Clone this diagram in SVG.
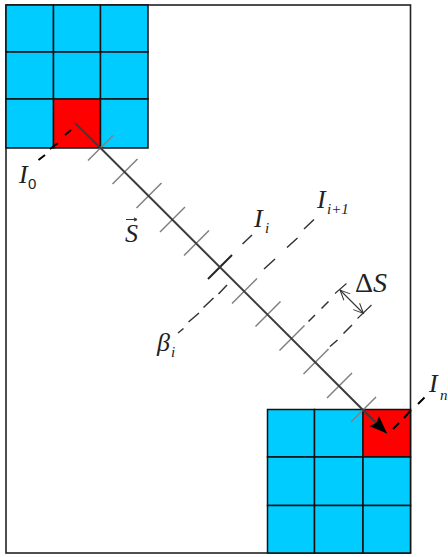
<svg xmlns="http://www.w3.org/2000/svg" width="448" height="557" viewBox="0 0 448 557">
<style>
.cell{fill:#00ccff;stroke:#111;stroke-width:1.5}
.red{fill:#ff0000;stroke:#111;stroke-width:1.5}
.frame{fill:none;stroke:#222;stroke-width:1.6}
.main{stroke:#3c3c3c;stroke-width:2;fill:none}
.tick{stroke:#808080;stroke-width:1.5;fill:none}
.tickd{stroke:#222;stroke-width:2;fill:none}
.dash{stroke:#333;stroke-width:1.5;fill:none}
.dashb{stroke:#000;stroke-width:2;fill:none}
.dim{stroke:#333;stroke-width:1.1;fill:none}
text{font-family:"Liberation Serif","Times New Roman",serif;font-style:italic;fill:#222;font-size:26px}
.sub{font-size:15px}
.plain{font-style:normal}
.digit{font-style:normal;font-family:"Liberation Sans",Arial,sans-serif}
.delta{font-size:28px}
</style>
<defs>
<marker id="arrow" markerUnits="userSpaceOnUse" markerWidth="19" markerHeight="16" refX="18" refY="8" orient="auto"><path d="M0,1 L18,8 L0,15 L3,8 Z" fill="#000"/></marker>
<marker id="open" markerUnits="userSpaceOnUse" markerWidth="12" markerHeight="12" refX="10" refY="6" orient="auto-start-reverse"><path d="M0,1.500 L10,6 L0,10.500" fill="none" stroke="#333" stroke-width="1"/></marker>
</defs>
<rect id="frame" class="frame" x="6" y="5" width="404.5" height="548"/>
<g id="grid-start">
<rect class="cell" x="6" y="5" width="47.5" height="47"/><rect class="cell" x="53.5" y="5" width="47" height="47"/><rect class="cell" x="100.5" y="5" width="47.5" height="47"/>
<rect class="cell" x="6" y="52" width="47.5" height="47"/><rect class="cell" x="53.5" y="52" width="47" height="47"/><rect class="cell" x="100.5" y="52" width="47.5" height="47"/>
<rect class="cell" x="6" y="99" width="47.5" height="49"/><rect class="red" x="53.5" y="99" width="47" height="49"/><rect class="cell" x="100.5" y="99" width="47.5" height="49"/>
</g>
<g id="grid-end">
<rect class="cell" x="267.5" y="409.5" width="47" height="47.5"/><rect class="cell" x="314.5" y="409.5" width="48.5" height="47.5"/><rect class="red" x="363" y="409.5" width="47.5" height="47.5"/>
<rect class="cell" x="267.5" y="457" width="47" height="48.5"/><rect class="cell" x="314.5" y="457" width="48.5" height="48.5"/><rect class="cell" x="363" y="457" width="47.5" height="48.5"/>
<rect class="cell" x="267.5" y="505.5" width="47" height="47.5"/><rect class="cell" x="314.5" y="505.5" width="48.5" height="47.5"/><rect class="cell" x="363" y="505.5" width="47.5" height="47.5"/>
</g>
<g id="connectors">
<g id="ticks">
<path class="tick" d="M88,160.500L113,135.500M112.500,184L137.500,159M136.500,208L161.500,183M160,232L185,207M184,255.500L209,230.500M232,303.500L257,278.500M255.500,326.500L280.500,301.500M279.500,350.500L304.500,325.500M303.500,374L328.500,349M327,398L352,373M351,422L376,397"/>
<path class="tickd" d="M208,279L232,255"/>
</g>
<path class="main" d="M75,123L100.500,148L363,410L387,433.500" marker-end="url(#arrow)"/>
<path class="dashb" d="M38.500,160L45,155M50,149L58,143M65,135L71,130"/>
<path class="dashb" d="M393,429L399,423M404,418L411,410M418,404L424.500,397.500"/>
<path class="dash" d="M242.500,244L252,235"/>
<path class="dash" d="M264,269L275,259M287,247.500L297.500,238M304,229L314,219.500"/>
<path class="dash" d="M178,333L183.500,328.500M188.500,322L199,313M203.500,307.500L213.500,298M218.500,294L227,285"/>
<path class="dash" d="M308.500,321.500L315,315M321.500,308.500L328.500,301.500"/>
<path class="dash" d="M330,346.500L337.500,340M343.500,333.500L352,325"/>
<path class="dim" d="M335,293.500L346.500,283.500M357.500,318.500L371.500,305"/>
<path class="dim" d="M340,290L363.500,313.500" marker-start="url(#open)" marker-end="url(#open)"/>
<path class="dim" d="M126,219.500L137,219.500M137,219.500L134,218M137,219.500L134,221"/>
</g>
<g id="labels">
<text x="19" y="183">I</text><text class="sub digit" x="28" y="189">0</text>
<text x="125" y="242">S</text>
<text x="254" y="227">I</text><text class="sub" x="265" y="233">i</text>
<text x="317" y="208">I</text><text class="sub" x="327" y="214">i+1</text>
<text x="157" y="351">β</text><text class="sub" x="171" y="357">i</text>
<text class="delta" x="355" y="292"><tspan class="plain">Δ</tspan>S</text>
<text x="429" y="392">I</text><text class="sub" x="440" y="400">n</text>
</g>
</svg>
